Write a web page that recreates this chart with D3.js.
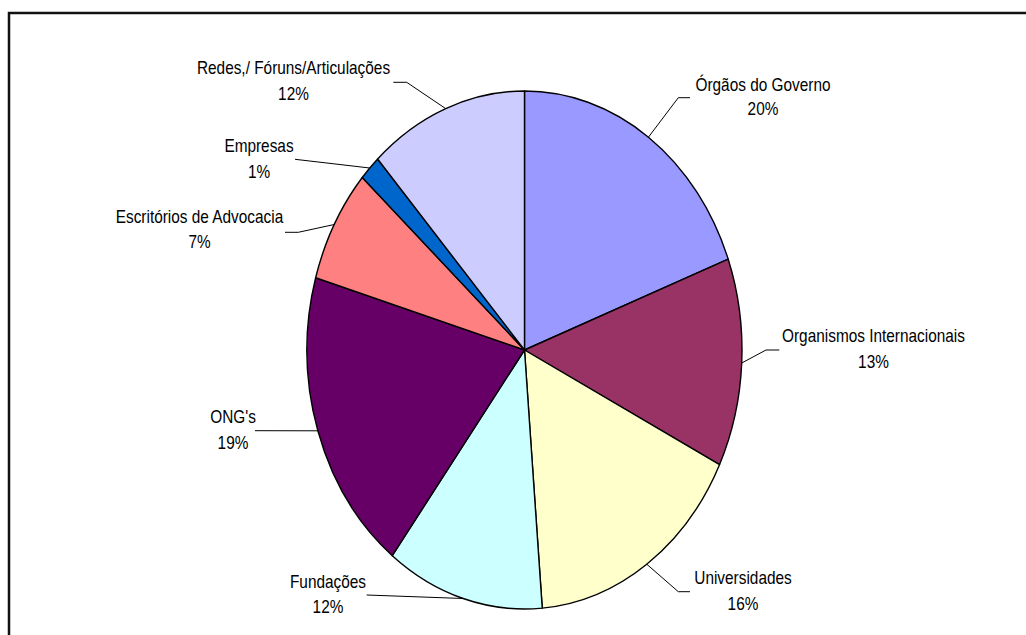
<!DOCTYPE html>
<html>
<head>
<meta charset="utf-8">
<script src="https://cdn.jsdelivr.net/npm/d3@7"></script>
<style>
  html, body { margin: 0; padding: 0; background: #fff; }
  svg { display: block; }
  text { font-family: "Liberation Sans", Arial, sans-serif; fill: #000; }
</style>
</head>
<body>
<svg id="chart" width="1026" height="635"></svg>
<script>
// ---- data ----
const categories = [
  "Órgãos do Governo",
  "Organismos Internacionais",
  "Universidades",
  "Fundações",
  "ONG's",
  "Escritórios de Advocacia",
  "Empresas",
  "Redes,/ Fóruns/Articulações"
];
const values = [19.3, 13.0, 16.4, 11.7, 19.1, 7.1, 1.6, 11.8];
const percentLabels = ["20%", "13%", "16%", "12%", "19%", "7%", "1%", "12%"];
const colors = ["#9999FF", "#993366", "#FFFFCC", "#CCFFFF", "#660066", "#FF8080", "#0066CC", "#CCCCFF"];

// ---- layout (label placement, not data) ----
const labelLayout = [
  { cx: 763,   b1: 91,    b2: 115,   line: [[690, 97.7], [678.3, 97.7]] },
  { cx: 873.5, b1: 342,   b2: 368,   line: [[779.3, 350], [766, 350]] },
  { cx: 743,   b1: 584,   b2: 610,   line: [[690, 591.7], [678.3, 591.7]] },
  { cx: 328,   b1: 587.5, b2: 613,   line: [[366.7, 595]] },
  { cx: 233,   b1: 422.7, b2: 448.5, line: [[255, 430.7]] },
  { cx: 199.5, b1: 223.3, b2: 248.3, line: [[285, 232.3], [298.3, 232.3]] },
  { cx: 259,   b1: 151.7, b2: 177.7, line: [[295, 159.3]] },
  { cx: 293.5, b1: 74,    b2: 100,   line: [[393.3, 82.3], [406.7, 82.3]] }
];

const svg = d3.select("#chart");
const W = 1026, H = 635;

// outer frame
svg.append("rect")
  .attr("x", 9).attr("y", 13)
  .attr("width", W + 20).attr("height", H + 20)
  .attr("fill", "#fff")
  .attr("stroke", "#111").attr("stroke-width", 2.5);

const cx = 524.5, cy = 350;
const rx = 217.5, ry = 259;

const pie = d3.pie().sort(null).value(d => d).startAngle(0).endAngle(2 * Math.PI);
const arcs = pie(values);
const arc = d3.arc().innerRadius(0).outerRadius(rx);

const g = svg.append("g")
  .attr("transform", `translate(${cx},${cy}) scale(1,${ry / rx})`);

g.selectAll("path")
  .data(arcs)
  .enter().append("path")
  .attr("d", arc)
  .attr("fill", (d, i) => colors[i])
  .attr("stroke", "#000")
  .attr("stroke-width", 1.4)
  .attr("stroke-linejoin", "round")
  .attr("vector-effect", "non-scaling-stroke");

// leader lines
const lineGen = d3.line();
arcs.forEach((a, i) => {
  const mid = (a.startAngle + a.endAngle) / 2;
  const end = [cx + rx * Math.sin(mid), cy - ry * Math.cos(mid)];
  const pts = labelLayout[i].line.concat([end]);
  svg.append("path")
    .attr("d", lineGen(pts))
    .attr("fill", "none")
    .attr("stroke", "#000")
    .attr("stroke-width", 1);
});

// labels
const sx = 0.855;
const fs = 18;
categories.forEach((c, i) => {
  const L = labelLayout[i];
  svg.append("text")
    .attr("transform", `translate(${L.cx},${L.b1}) scale(${sx},1)`)
    .attr("text-anchor", "middle")
    .attr("font-size", fs)
    .text(c);
  svg.append("text")
    .attr("transform", `translate(${L.cx},${L.b2}) scale(${sx},1)`)
    .attr("text-anchor", "middle")
    .attr("font-size", fs)
    .text(percentLabels[i]);
});
</script>
</body>
</html>
